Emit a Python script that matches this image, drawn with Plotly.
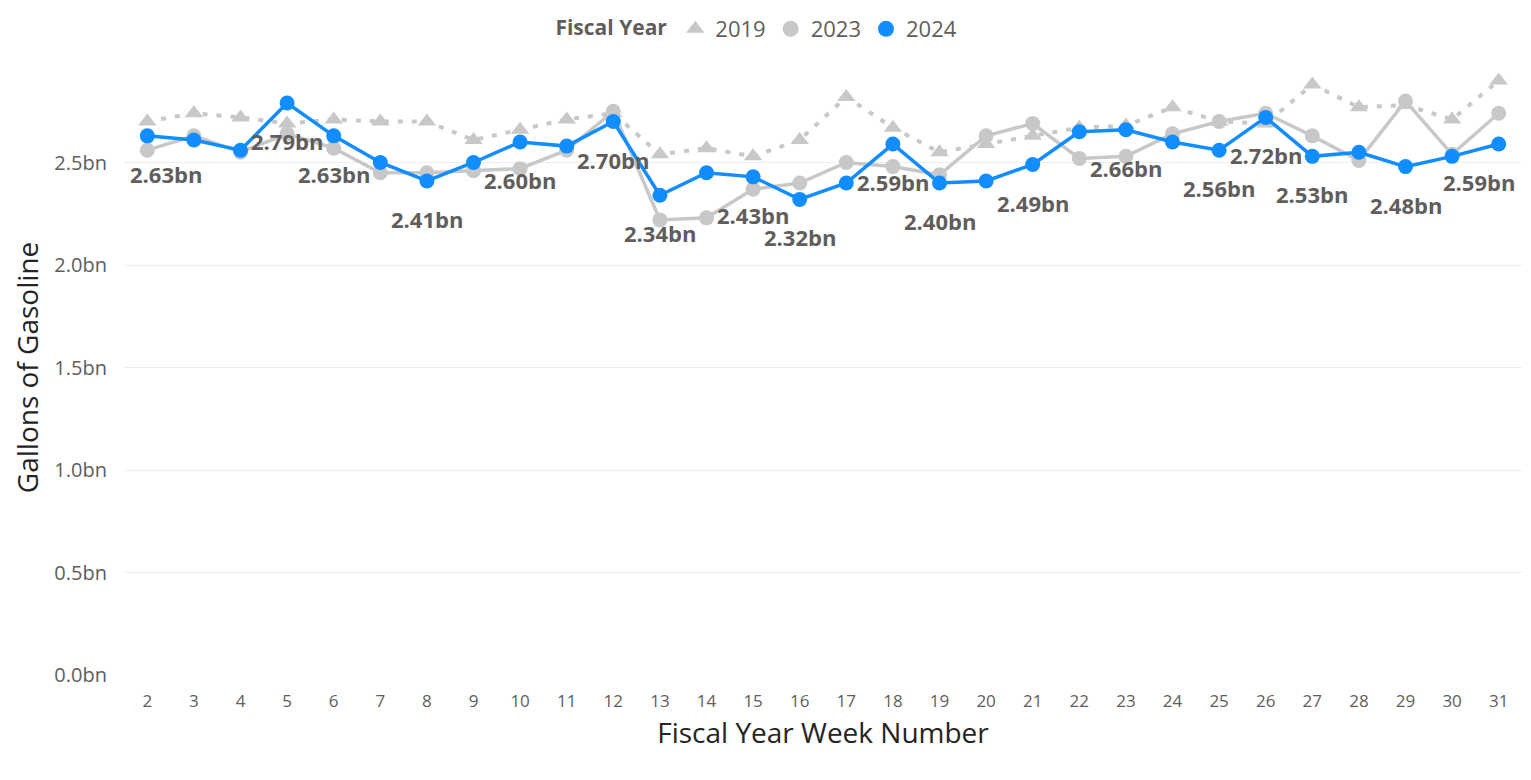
import plotly.graph_objects as go

weeks = list(range(2, 32))

fy2019 = [2.70, 2.74, 2.72, 2.69, 2.71, 2.70, 2.70, 2.61, 2.66, 2.71,
          2.74, 2.54, 2.57, 2.53, 2.61, 2.82, 2.67, 2.55, 2.59, 2.63,
          2.67, 2.68, 2.77, 2.70, 2.69, 2.88, 2.77, 2.78, 2.71, 2.90]

fy2023 = [2.56, 2.63, 2.55, 2.64, 2.57, 2.45, 2.45, 2.46, 2.47, 2.56,
          2.75, 2.22, 2.23, 2.37, 2.40, 2.50, 2.48, 2.44, 2.63, 2.69,
          2.52, 2.53, 2.64, 2.70, 2.74, 2.63, 2.51, 2.80, 2.54, 2.74]

fy2024 = [2.63, 2.61, 2.56, 2.79, 2.63, 2.50, 2.41, 2.50, 2.60, 2.58,
          2.70, 2.34, 2.45, 2.43, 2.32, 2.40, 2.59, 2.40, 2.41, 2.49,
          2.65, 2.66, 2.60, 2.56, 2.72, 2.53, 2.55, 2.48, 2.53, 2.59]

label_weeks = [2, 5, 6, 8, 10, 12, 13, 15, 16, 18, 19, 21, 23, 25, 26, 27, 29, 31]

y_ticks = [0.0, 0.5, 1.0, 1.5, 2.0, 2.5]

FONT = "Segoe UI, Open Sans, Noto Sans, sans-serif"
BLUE = "#118DFF"
GRAY = "#C8C8C8"
TXT = "#605E5C"

fig = go.Figure()

fig.add_trace(go.Scatter(
    x=weeks, y=fy2019, mode="lines+markers", name="2019", showlegend=False,
    line=dict(color=GRAY, width=4, dash="5px,9px"),
    marker=dict(symbol="triangle-up", size=16, color=GRAY)))
fig.add_trace(go.Scatter(
    x=weeks, y=fy2023, mode="lines+markers", name="2023", showlegend=False,
    line=dict(color=GRAY, width=3.5),
    marker=dict(symbol="circle", size=15, color=GRAY)))
fig.add_trace(go.Scatter(
    x=weeks, y=fy2024, mode="lines+markers", name="2024", showlegend=False,
    line=dict(color=BLUE, width=3.5),
    marker=dict(symbol="circle", size=15, color=BLUE)))

# legend entries (markers only)
for name, sym, col in [("2019", "triangle-up", GRAY), ("2023", "circle", GRAY), ("2024", "circle", BLUE)]:
    fig.add_trace(go.Scatter(x=[None], y=[None], mode="markers", name=name,
                             marker=dict(symbol=sym, size=20, color=col)))

first_week, last_week = weeks[0], weeks[-1]
for w, v in zip(weeks, fy2024):
    if w in label_weeks:
        if w == first_week:
            anchor, shift = "left", -19
        elif w == last_week:
            anchor, shift = "right", 18
        else:
            anchor, shift = "center", 0
        fig.add_annotation(x=w, y=v, text=f"{v:.2f}bn", showarrow=False,
                           yshift=-38, xanchor=anchor, xshift=shift,
                           font=dict(family=FONT, size=22, color=TXT, weight="bold"))

fig.update_layout(
    width=1515, height=764,
    margin=dict(l=116, r=1, t=52, b=97),
    paper_bgcolor="white", plot_bgcolor="white",
    font=dict(family=FONT, color=TXT),
    legend=dict(orientation="h", xref="container", yref="container",
                x=0.495, xanchor="center", y=1.0, yanchor="top",
                title=dict(text="<b>Fiscal Year</b>", font=dict(size=21, color=TXT)),
                font=dict(size=22, color=TXT), itemsizing="trace",
                itemwidth=30, tracegroupgap=0),
    xaxis=dict(range=[1.5, 31.5], tickmode="array", tickvals=weeks,
               ticktext=[str(w) for w in weeks], showgrid=False, zeroline=False,
               tickfont=dict(size=17, color=TXT), ticklabelstandoff=14,
               title=dict(text="Fiscal Year Week Number", font=dict(size=28, color="#252423"), standoff=12)),
    yaxis=dict(range=[0, 3.0], tickmode="array", tickvals=y_ticks,
               ticktext=[f"{t:.1f}bn" for t in y_ticks],
               showgrid=True, gridcolor="#EEEEEE", gridwidth=1, zeroline=False,
               tickfont=dict(size=20, color=TXT), ticklabelstandoff=16,
               title=dict(text="Gallons of Gasoline", font=dict(size=28, color="#252423"), standoff=12)),
)

fig.write_html("out.html")
